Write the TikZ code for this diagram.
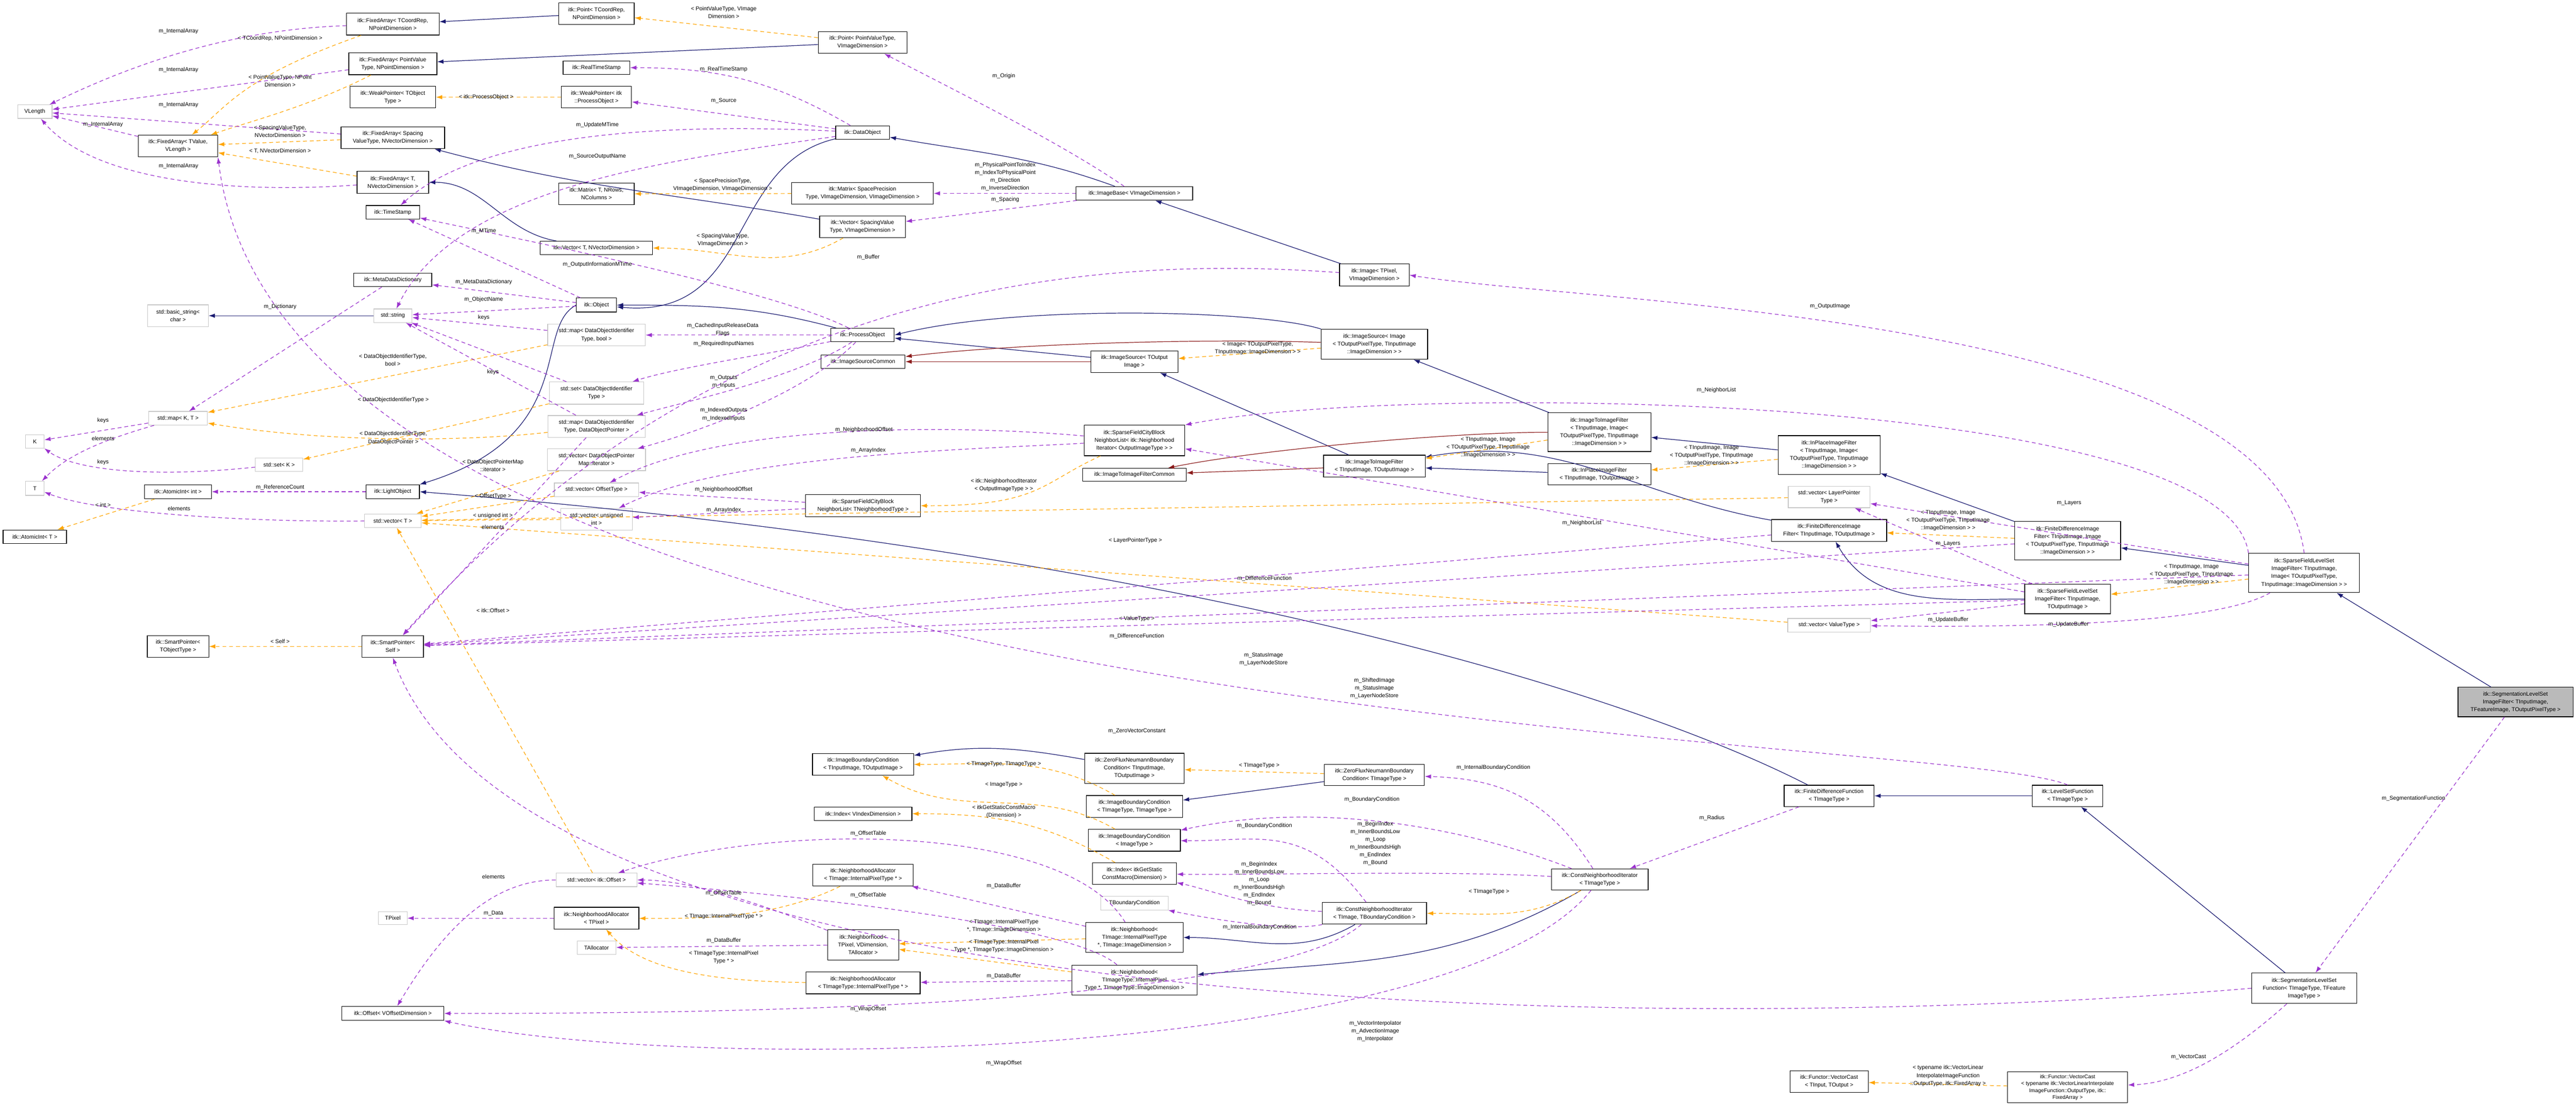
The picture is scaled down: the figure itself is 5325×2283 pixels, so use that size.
\documentclass[tikz,border=0pt]{standalone}
\usepackage{fontspec}
\setmainfont{Liberation Sans}
\usetikzlibrary{arrows.meta}
\definecolor{inhc}{HTML}{191970}
\definecolor{usec}{HTML}{9A32CD}
\definecolor{tplc}{HTML}{FFA500}
\definecolor{prtc}{HTML}{8B1A1A}
\newcommand{\nf}{\fontsize{11.5}{16}\selectfont}
\newcommand{\lf}{\fontsize{11.5}{16}\selectfont}
\begin{document}
\begin{tikzpicture}[x=1pt,y=-1pt,
 box/.style={draw=black,line width=1.3pt,fill=white,align=center,font=\nf,inner sep=1pt},
 ext/.style={box,draw=black!22},
 root/.style={box,fill=black!27},
 lbl/.style={font=\lf,align=center,inner sep=0pt},
 tip/.style={-{Latex[length=13pt,width=9pt]}},
 inh/.style={tip,draw=inhc,line width=1.3pt},
 prt/.style={tip,draw=prtc,line width=1.3pt},
 use/.style={tip,draw=usec,line width=1.3pt,dash pattern=on 8pt off 6pt},
 tpl/.style={tip,draw=tplc,line width=1.3pt,dash pattern=on 8pt off 6pt}]
\useasboundingbox (0,0) rectangle (5325,2283);
% ---- nodes ----
\node[ext,minimum width=71pt,minimum height=28pt] (VL) at (72,231) {VLength};
\node[ext,minimum width=38pt,minimum height=28pt] (K) at (72,913) {K};
\node[ext,minimum width=38pt,minimum height=29pt] (T) at (72,1010) {T};
\node[box,minimum width=131pt,minimum height=28pt] (AIT) at (72,1110) {itk::AtomicInt< T >};
\node[box,minimum width=164pt,minimum height=45pt] (FAV) at (368,302) {itk::FixedArray< TValue,\\ VLength >};
\node[ext,minimum width=125pt,minimum height=45pt] (BS) at (368,653) {std::basic\_string<\\ char >};
\node[ext,minimum width=122pt,minimum height=28pt] (MAPKT) at (368,865) {std::map< K, T >};
\node[box,minimum width=138pt,minimum height=29pt] (AII) at (368,1017) {itk::AtomicInt< int >};
\node[box,minimum width=127pt,minimum height=45pt] (SPT) at (368,1337) {itk::SmartPointer<\\ TObjectType >};
\node[ext,minimum width=98pt,minimum height=28pt] (SETK) at (577,961) {std::set< K >};
\node[box,minimum width=191pt,minimum height=45pt] (FAC) at (812,50) {itk::FixedArray< TCoordRep,\\ NPointDimension >};
\node[box,minimum width=182pt,minimum height=45pt] (FAP) at (812,132) {itk::FixedArray< PointValue\\ Type, NPointDimension >};
\node[box,minimum width=177pt,minimum height=45pt] (WPT) at (812,201) {itk::WeakPointer< TObject\\ Type >};
\node[box,minimum width=214pt,minimum height=45pt] (FAS) at (812,285) {itk::FixedArray< Spacing\\ ValueType, NVectorDimension >};
\node[box,minimum width=148pt,minimum height=45pt] (FAT) at (812,377) {itk::FixedArray< T,\\ NVectorDimension >};
\node[box,minimum width=111pt,minimum height=28pt] (TS) at (812,439) {itk::TimeStamp};
\node[box,minimum width=161pt,minimum height=28pt] (MDD) at (812,579) {itk::MetaDataDictionary};
\node[ext,minimum width=79pt,minimum height=28pt] (STR) at (812,653) {std::string};
\node[box,minimum width=110pt,minimum height=29pt] (LO) at (812,1017) {itk::LightObject};
\node[ext,minimum width=117pt,minimum height=28pt] (VT) at (812,1077) {std::vector< T >};
\node[box,minimum width=127pt,minimum height=45pt] (SPS) at (812,1337) {itk::SmartPointer<\\ Self >};
\node[ext,minimum width=59pt,minimum height=27pt] (TPX) at (812,1899) {TPixel};
\node[box,minimum width=211pt,minimum height=29pt] (OFF) at (812,2096) {itk::Offset< VOffsetDimension >};
\node[box,minimum width=156pt,minimum height=45pt] (PTC) at (1233,28) {itk::Point< TCoordRep,\\ NPointDimension >};
\node[box,minimum width=138pt,minimum height=28pt] (RTS) at (1233,140) {itk::RealTimeStamp};
\node[box,minimum width=145pt,minimum height=45pt] (WPP) at (1233,201) {itk::WeakPointer< itk\\ ::ProcessObject >};
\node[box,minimum width=156pt,minimum height=45pt] (MTX) at (1233,401) {itk::Matrix< T, NRows,\\ NColumns >};
\node[box,minimum width=232pt,minimum height=28pt] (VTN) at (1233,513) {itk::Vector< T, NVectorDimension >};
\node[box,minimum width=83pt,minimum height=29pt] (OBJ) at (1233,631) {itk::Object};
\node[ext,minimum width=202pt,minimum height=45pt] (MDB) at (1233,693) {std::map< DataObjectIdentifier\\ Type, bool >};
\node[ext,minimum width=195pt,minimum height=46pt] (SDO) at (1233,813) {std::set< DataObjectIdentifier\\ Type >};
\node[ext,minimum width=201pt,minimum height=45pt] (MDP) at (1233,882) {std::map< DataObjectIdentifier\\ Type, DataObjectPointer >};
\node[ext,minimum width=203pt,minimum height=45pt] (VDI) at (1233,951) {std::vector< DataObjectPointer\\ Map::iterator >};
\node[ext,minimum width=174pt,minimum height=28pt] (VOT) at (1233,1013) {std::vector< OffsetType >};
\node[ext,minimum width=148pt,minimum height=45pt] (VUI) at (1233,1074) {std::vector< unsigned\\ int >};
\node[ext,minimum width=167pt,minimum height=28pt] (VOF) at (1233,1820) {std::vector< itk::Offset >};
\node[box,minimum width=175pt,minimum height=45pt] (NAP) at (1233,1899) {itk::NeighborhoodAllocator\\ < TPixel >};
\node[ext,minimum width=80pt,minimum height=28pt] (TAL) at (1233,1960) {TAllocator};
\node[box,minimum width=183pt,minimum height=45pt] (PTP) at (1783,88) {itk::Point< PointValueType,\\ VImageDimension >};
\node[box,minimum width=111pt,minimum height=28pt] (DO) at (1783,274) {itk::DataObject};
\node[box,minimum width=293pt,minimum height=45pt] (MTS) at (1783,400) {itk::Matrix< SpacePrecision\\ Type, VImageDimension, VImageDimension >};
\node[box,minimum width=177pt,minimum height=45pt] (VSP) at (1783,469) {itk::Vector< SpacingValue\\ Type, VImageDimension >};
\node[box,minimum width=131pt,minimum height=28pt] (PO) at (1783,693) {itk::ProcessObject};
\node[box,minimum width=174pt,minimum height=28pt] (ISC) at (1784,748) {itk::ImageSourceCommon};
\node[box,minimum width=237pt,minimum height=46pt] (SFT) at (1784,1046) {itk::SparseFieldCityBlock\\ NeighborList< TNeighborhoodType >};
\node[box,minimum width=209pt,minimum height=45pt] (IBCIO) at (1784,1581) {itk::ImageBoundaryCondition\\ < TInputImage, TOutputImage >};
\node[box,minimum width=202pt,minimum height=28pt] (IDX) at (1784,1683) {itk::Index< VIndexDimension >};
\node[box,minimum width=208pt,minimum height=45pt] (NAI) at (1784,1810) {itk::NeighborhoodAllocator\\ < TImage::InternalPixelType * >};
\node[box,minimum width=147pt,minimum height=63pt] (NBP) at (1784,1954) {itk::Neighborhood<\\ TPixel, VDimension,\\ TAllocator >};
\node[box,minimum width=236pt,minimum height=45pt] (NAT) at (1784,2033) {itk::NeighborhoodAllocator\\ < TImageType::InternalPixelType * >};
\node[box,minimum width=241pt,minimum height=28pt] (IB) at (2345,400) {itk::ImageBase< VImageDimension >};
\node[box,minimum width=180pt,minimum height=45pt] (ISO) at (2345,748) {itk::ImageSource< TOutput\\ Image >};
\node[box,minimum width=208pt,minimum height=63pt] (SFN) at (2345,911) {itk::SparseFieldCityBlock\\ NeighborList< itk::Neighborhood\\ Iterator< OutputImageType > >};
\node[box,minimum width=214pt,minimum height=27pt] (ITC) at (2345,982) {itk::ImageToImageFilterCommon};
\node[box,minimum width=206pt,minimum height=62pt] (ZFIO) at (2345,1589) {itk::ZeroFluxNeumannBoundary\\ Condition< TInputImage,\\ TOutputImage >};
\node[box,minimum width=199pt,minimum height=45pt] (IBCT) at (2345,1668) {itk::ImageBoundaryCondition\\ < TImageType, TImageType >};
\node[box,minimum width=190pt,minimum height=45pt] (IBCI) at (2345,1738) {itk::ImageBoundaryCondition\\ < ImageType >};
\node[box,minimum width=174pt,minimum height=45pt] (IDXS) at (2345,1807) {itk::Index< itkGetStatic\\ ConstMacro(Dimension) >};
\node[ext,minimum width=140pt,minimum height=28pt] (TBC) at (2345,1868) {TBoundaryCondition};
\node[box,minimum width=201pt,minimum height=62pt] (NBI) at (2345,1939) {itk::Neighborhood<\\ TImage::InternalPixelType\\ *, TImage::ImageDimension >};
\node[box,minimum width=259pt,minimum height=62pt] (NBT) at (2345,2027) {itk::Neighborhood<\\ TImageType::InternalPixel\\ Type *, TImageType::ImageDimension >};
\node[box,minimum width=144pt,minimum height=46pt] (IMG) at (2841,569) {itk::Image< TPixel,\\ VImageDimension >};
\node[box,minimum width=220pt,minimum height=62pt] (ISI) at (2841,712) {itk::ImageSource< Image\\ < TOutputPixelType, TInputImage\\ ::ImageDimension > >};
\node[box,minimum width=210pt,minimum height=45pt] (ITF) at (2841,964) {itk::ImageToImageFilter\\ < TInputImage, TOutputImage >};
\node[box,minimum width=207pt,minimum height=44pt] (ZFT) at (2841,1603) {itk::ZeroFluxNeumannBoundary\\ Condition< TImageType >};
\node[box,minimum width=216pt,minimum height=45pt] (CNI) at (2841,1889) {itk::ConstNeighborhoodIterator\\ < TImage, TBoundaryCondition >};
\node[box,minimum width=213pt,minimum height=80pt] (ITI) at (3306,894) {itk::ImageToImageFilter\\ < TInputImage, Image<\\ TOutputPixelType, TInputImage\\ ::ImageDimension > >};
\node[box,minimum width=213pt,minimum height=44pt] (IPF) at (3306,981) {itk::InPlaceImageFilter\\ < TInputImage, TOutputImage >};
\node[box,minimum width=200pt,minimum height=44pt] (CNT) at (3307,1819) {itk::ConstNeighborhoodIterator\\ < TImageType >};
\node[box,minimum width=211pt,minimum height=80pt] (IPI) at (3781,941) {itk::InPlaceImageFilter\\ < TInputImage, Image<\\ TOutputPixelType, TInputImage\\ ::ImageDimension > >};
\node[ext,minimum width=169pt,minimum height=44pt] (VLP) at (3781,1028) {std::vector< LayerPointer\\ Type >};
\node[box,minimum width=238pt,minimum height=45pt] (FDF) at (3781,1097) {itk::FiniteDifferenceImage\\ Filter< TInputImage, TOutputImage >};
\node[ext,minimum width=171pt,minimum height=28pt] (VVT) at (3781,1293) {std::vector< ValueType >};
\node[box,minimum width=186pt,minimum height=44pt] (FDFn) at (3781,1646) {itk::FiniteDifferenceFunction\\ < TImageType >};
\node[box,minimum width=162pt,minimum height=44pt] (VC) at (3781,2237) {itk::Functor::VectorCast\\ < TInput, TOutput >};
\node[box,minimum width=219pt,minimum height=80pt] (FDI) at (4274,1118) {itk::FiniteDifferenceImage\\ Filter< TInputImage, Image\\ < TOutputPixelType, TInputImage\\ ::ImageDimension > >};
\node[box,minimum width=177pt,minimum height=61pt] (SFL) at (4274,1239) {itk::SparseFieldLevelSet\\ ImageFilter< TInputImage,\\ TOutputImage >};
\node[box,minimum width=146pt,minimum height=44pt] (LSF) at (4274,1646) {itk::LevelSetFunction\\ < TImageType >};
\node[box,minimum width=248pt,minimum height=64pt,font=\fontsize{11}{14.5}\selectfont] (VCT) at (4274,2249) {itk::Functor::VectorCast\\ < typename itk::VectorLinearInterpolate\\ ImageFunction::OutputType, itk::\\ FixedArray >};
\node[box,minimum width=229pt,minimum height=81pt] (SFI) at (4763,1185) {itk::SparseFieldLevelSet\\ ImageFilter< TInputImage,\\ Image< TOutputPixelType,\\ TInputImage::ImageDimension > >};
\node[box,minimum width=217pt,minimum height=63pt] (SLF) at (4763,2044) {itk::SegmentationLevelSet\\ Function< TImageType, TFeature\\ ImageType >};
\node[root,minimum width=238pt,minimum height=61pt] (ROOT) at (5200,1452) {itk::SegmentationLevelSet\\ ImageFilter< TInputImage,\\ TFeatureImage, TOutputPixelType >};
% ---- inheritance ----
\draw[inh] (PTC) -- (FAC);
\draw[inh] (PTP) -- (FAP);
\draw[inh] (VSP) to[out=170,in=-15] (FAS);
\draw[inh] (VTN) to[out=170,in=0] (FAT);
\draw[inh] (IB) to[out=160,in=-10] (DO);
\draw[inh] (DO) .. controls (1500,340) and (1560,660) .. (OBJ);
\draw[inh] (PO) to[out=165,in=0] (OBJ);
\draw[inh] (OBJ.west) .. controls (1100,680) and (1200,900) .. (LO.north east);
\draw[inh] (STR) -- (BS);
\draw[inh] (IMG) -- (IB);
\draw[inh] (ISO) -- (PO);
\draw[inh] (ISI.north west) .. controls (2600,640) and (2100,630) .. (PO.east);
\draw[inh] (ITF) -- (ISO);
\draw[inh] (ITI) -- (ISI);
\draw[inh] (IPF) -- (ITF);
\draw[inh] (IPI) -- (ITI);
\draw[inh] (FDF) to[out=170,in=10] (ITF);
\draw[inh] (FDI) -- (IPI);
\draw[inh] (SFL) to[out=180,in=-60] (FDF);
\draw[inh] (SFI) -- (FDI);
\draw[inh] (ROOT) -- (SFI);
\draw[inh] (FDFn) .. controls (3300,1400) and (2300,1130) .. (LO.east);
\draw[inh] (LSF) -- (FDFn);
\draw[inh] (SLF) -- (LSF);
\draw[inh] (ZFIO) to[out=170,in=10] (IBCIO);
\draw[inh] (ZFT) -- (IBCT);
\draw[inh] (CNI) to[out=-150,in=0] (NBI);
\draw[inh] (CNT) to[out=-150,in=5] (NBT);
% ---- protected ----
\draw[prt] (ISO) -- (ISC);
\draw[prt] (ISI) .. controls (2500,700) and (2100,710) .. (ISC);
\draw[prt] (ITF) -- (ITC);
\draw[prt] (ITI) .. controls (3000,894) and (2600,930) .. (ITC);
% ---- template ----
\draw[tpl] (FAC) .. controls (500,160) and (470,220) .. (FAV);
\draw[tpl] (FAP) .. controls (640,220) and (520,250) .. (FAV);
\draw[tpl] (FAS) -- (FAV);
\draw[tpl] (FAT) -- (FAV);
\draw[tpl] (WPP) -- (WPT);
\draw[tpl] (PTP) -- (PTC);
\draw[tpl] (MTS) -- (MTX);
\draw[tpl] (VSP) to[out=-150,in=0] (VTN);
\draw[tpl] (MDB) -- (MAPKT);
\draw[tpl] (SDO) -- (SETK);
\draw[tpl] (MDP) .. controls (1000,910) and (700,920) .. (MAPKT);
\draw[tpl] (VDI) -- (VT);
\draw[tpl] (VOT) -- (VT);
\draw[tpl] (VUI) -- (VT);
\draw[tpl] (VOF) -- (VT);
\draw[tpl] (VLP) -- (VT);
\draw[tpl] (VVT) -- (VT);
\draw[tpl] (AII) -- (AIT);
\draw[tpl] (SPS) -- (SPT);
\draw[tpl] (SFN) .. controls (2150,1000) and (2150,1046) .. (SFT);
\draw[tpl] (ISI) -- (ISO);
\draw[tpl] (ITI) -- (ITF);
\draw[tpl] (IPI) -- (IPF);
\draw[tpl] (FDI) -- (FDF);
\draw[tpl] (SFI) -- (SFL);
\draw[tpl] (IBCT) to[out=150,in=0] (IBCIO);
\draw[tpl] (IBCI) to[out=150,in=-30] (IBCIO);
\draw[tpl] (IDXS) to[out=150,in=0] (IDX);
\draw[tpl] (ZFT) -- (ZFIO);
\draw[tpl] (CNT) to[out=-150,in=0] (CNI);
\draw[tpl] (NAI) .. controls (1600,1900) and (1450,1900) .. (NAP);
\draw[tpl] (NAT) .. controls (1450,2030) and (1320,2000) .. (NAP);
\draw[tpl] (NBI) -- (NBP);
\draw[tpl] (NBT) -- (NBP);
\draw[tpl] (VCT) -- (VC);
% ---- usage ----
\draw[use] (FAC) .. controls (500,60) and (300,120) .. (VL);
\draw[use] (FAP) -- (VL);
\draw[use] (FAS) -- (VL);
\draw[use] (FAV) -- (VL);
\draw[use] (FAT) .. controls (500,400) and (200,380) .. (VL);
\draw[use] (MAPKT) -- (K);
\draw[use] (MAPKT) .. controls (250,900) and (150,930) .. (T);
\draw[use] (SETK) .. controls (300,990) and (150,970) .. (K);
\draw[use] (VT) .. controls (500,1080) and (200,1060) .. (T);
\draw[use] (MDD) -- (MAPKT);
\draw[use] (LO) -- (AII);
\draw[use] (OBJ) -- (TS);
\draw[use] (DO) .. controls (1400,255) and (1000,270) .. (TS);
\draw[use] (PO) .. controls (1600,600) and (1100,500) .. (TS);
\draw[use] (DO) to[out=150,in=0] (RTS);
\draw[use] (DO) -- (WPP);
\draw[use] (DO) .. controls (1400,330) and (950,380) .. (STR);
\draw[use] (OBJ) -- (STR);
\draw[use] (OBJ) -- (MDD);
\draw[use] (MDB) -- (STR);
\draw[use] (SDO) -- (STR);
\draw[use] (MDP) -- (STR);
\draw[use] (MDP) -- (SPS);
\draw[use] (IB) .. controls (2200,300) and (2000,200) .. (PTP);
\draw[use] (IB) -- (MTS);
\draw[use] (IB) -- (VSP);
\draw[use] (IMG) .. controls (2300,530) and (1500,560) .. (SPS);
\draw[use] (PO) -- (MDB);
\draw[use] (PO) .. controls (1600,730) and (1400,760) .. (SDO);
\draw[use] (PO) .. controls (1650,780) and (1420,830) .. (MDP);
\draw[use] (PO) .. controls (1660,820) and (1420,900) .. (VDI);
\draw[use] (SFT) -- (VOT);
\draw[use] (SFT) -- (VUI);
\draw[use] (SFN) .. controls (2000,880) and (1500,870) .. (VOT);
\draw[use] (SFN) .. controls (2000,930) and (1500,940) .. (VUI);
\draw[use] (SFI.north) .. controls (4700,650) and (3300,630) .. (IMG.east);
\draw[use] (SFI.north west) .. controls (4600,810) and (2900,790) .. (SFN.north east);
\draw[use] (SFL) -- (SFN);
\draw[use] (SFI) -- (VLP);
\draw[use] (SFL) -- (VLP);
\draw[use] (SFL) -- (VVT);
\draw[use] (SFI) .. controls (4600,1280) and (4300,1300) .. (VVT);
\draw[use] (FDF) -- (SPS);
\draw[use] (FDI) -- (SPS);
\draw[use] (SFL) -- (SPS);
\draw[use] (SFI) -- (SPS);
\draw[use] (LSF.north) .. controls (4000,1510) and (600,1520) .. (FAV.south east);
\draw[use] (SLF.west) .. controls (3500,2140) and (1100,2130) .. (SPS.south);
\draw[use] (SLF) .. controls (4600,2190) and (4500,2240) .. (VCT);
\draw[use] (ROOT) -- (SLF);
\draw[use] (FDFn) -- (CNT);
\draw[use] (CNT) .. controls (3200,1650) and (3100,1610) .. (ZFT);
\draw[use] (CNT) .. controls (3000,1700) and (2700,1660) .. (IBCI);
\draw[use] (CNT) .. controls (3000,1800) and (2600,1810) .. (IDXS);
\draw[use] (CNI) .. controls (2700,1700) and (2600,1740) .. (IBCI);
\draw[use] (CNI) .. controls (2600,1880) and (2500,1840) .. (IDXS);
\draw[use] (CNI) .. controls (2650,1930) and (2450,1890) .. (TBC);
\draw[use] (NBI) .. controls (2200,1700) and (1600,1700) .. (VOF);
\draw[use] (NBT) .. controls (2200,1900) and (1500,1840) .. (VOF);
\draw[use] (NBP) .. controls (1650,1900) and (1450,1820) .. (VOF);
\draw[use] (NBI) -- (NAI);
\draw[use] (NBT) -- (NAT);
\draw[use] (NBP) -- (TAL);
\draw[use] (NAP) -- (TPX);
\draw[use] (VOF) .. controls (1000,1820) and (900,1950) .. (OFF);
\draw[use] (CNI) .. controls (2600,2096) and (1300,2096) .. (OFF);
\draw[use] (CNT) .. controls (3000,2200) and (1400,2220) .. (OFF.south east);
% ---- labels ----
\node[lbl] (a1) at (369,65) {m\_InternalArray};
\node[lbl] (a2) at (369,145) {m\_InternalArray};
\node[lbl] (a3) at (369,217) {m\_InternalArray};
\node[lbl] (a4) at (213,257) {m\_InternalArray};
\node[lbl] (a5) at (369,344) {m\_InternalArray};
\node[lbl] (a6) at (579,80) {< TCoordRep, NPointDimension >};
\node[lbl] (a7) at (579,167) {< PointValueType, NPoint\\Dimension >};
\node[lbl] (a8) at (579,272) {< SpacingValueType,\\NVectorDimension >};
\node[lbl] (a9) at (579,312) {< T, NVectorDimension >};
\node[lbl] (a10) at (1005,201) {< itk::ProcessObject >};
\node[lbl] (a11) at (1496,26) {< PointValueType, VImage\\Dimension >};
\node[lbl] (a12) at (1496,143) {m\_RealTimeStamp};
\node[lbl] (a13) at (1496,208) {m\_Source};
\node[lbl] (a14) at (1235,259) {m\_UpdateMTime};
\node[lbl] (a15) at (1235,324) {m\_SourceOutputName};
\node[lbl] (a16) at (2075,157) {m\_Origin};
\node[lbl] (a17) at (2078,365) {m\_PhysicalPointToIndex\\m\_IndexToPhysicalPoint\\m\_Direction\\m\_InverseDirection};
\node[lbl] (a18) at (2078,413) {m\_Spacing};
\node[lbl] (a19) at (1494,383) {< SpacePrecisionType,\\VImageDimension, VImageDimension >};
\node[lbl] (a20) at (1494,496) {< SpacingValueType,\\VImageDimension >};
\node[lbl] (a21) at (1000,478) {m\_MTime};
\node[lbl] (a22) at (1235,547) {m\_OutputInformationMTime};
\node[lbl] (a23) at (1795,532) {m\_Buffer};
\node[lbl] (a24) at (1000,583) {m\_MetaDataDictionary};
\node[lbl] (a25) at (1000,620) {m\_ObjectName};
\node[lbl] (a26) at (579,634) {m\_Dictionary};
\node[lbl] (a27) at (1000,657) {keys};
\node[lbl] (a28) at (1494,682) {m\_CachedInputReleaseData\\Flags};
\node[lbl] (a29) at (1496,711) {m\_RequiredInputNames};
\node[lbl] (a30) at (812,745) {< DataObjectIdentifierType,\\bool >};
\node[lbl] (a31) at (1019,770) {keys};
\node[lbl] (a32) at (1496,790) {m\_Outputs\\m\_Inputs};
\node[lbl] (a33) at (813,827) {< DataObjectIdentifierType >};
\node[lbl] (a34) at (1496,857) {m\_IndexedOutputs\\m\_IndexedInputs};
\node[lbl] (a35) at (213,870) {keys};
\node[lbl] (a36) at (213,907) {elements};
\node[lbl] (a37) at (213,956) {keys};
\node[lbl] (a38) at (1786,889) {m\_NeighborhoodOffset};
\node[lbl] (a39) at (1795,932) {m\_ArrayIndex};
\node[lbl] (a40) at (813,906) {< DataObjectIdentifierType,\\DataObjectPointer >};
\node[lbl] (a41) at (1019,963) {< DataObjectPointerMap\\::iterator >};
\node[lbl] (a42) at (579,1008) {m\_ReferenceCount};
\node[lbl] (a43) at (1496,1012) {m\_NeighborhoodOffset};
\node[lbl] (a44) at (1496,1055) {m\_ArrayIndex};
\node[lbl] (a45) at (2075,1003) {< itk::NeighborhoodIterator\\< OutputImageType > >};
\node[lbl] (a46) at (1019,1026) {< OffsetType >};
\node[lbl] (a47) at (213,1044) {< int >};
\node[lbl] (a48) at (370,1052) {elements};
\node[lbl] (a49) at (1019,1067) {< unsigned int >};
\node[lbl] (a50) at (1019,1090) {elements};
\node[lbl] (a51) at (2347,1118) {< LayerPointerType >};
\node[lbl] (a52) at (1019,1263) {< itk::Offset >};
\node[lbl] (a53) at (579,1327) {< Self >};
\node[lbl] (a54) at (2350,1280) {< ValueType >};
\node[lbl] (a55) at (2614,1197) {m\_DifferenceFunction};
\node[lbl] (a56) at (2350,1316) {m\_DifferenceFunction};
\node[lbl] (a57) at (2612,1364) {m\_StatusImage\\m\_LayerNodeStore};
\node[lbl] (a58) at (2841,1424) {m\_ShiftedImage\\m\_StatusImage\\m\_LayerNodeStore};
\node[lbl] (a59) at (2350,1512) {m\_ZeroVectorConstant};
\node[lbl] (a60) at (2075,1580) {< TImageType, TImageType >};
\node[lbl] (a61) at (2075,1623) {< ImageType >};
\node[lbl] (a62) at (2075,1679) {< itkGetStaticConstMacro\\(Dimension) >};
\node[lbl] (a63) at (2603,1584) {< TImageType >};
\node[lbl] (a64) at (3087,1588) {m\_InternalBoundaryCondition};
\node[lbl] (a65) at (2836,1654) {m\_BoundaryCondition};
\node[lbl] (a66) at (2614,1708) {m\_BoundaryCondition};
\node[lbl] (a67) at (2843,1745) {m\_BeginIndex\\m\_InnerBoundsLow\\m\_Loop\\m\_InnerBoundsHigh\\m\_EndIndex\\m\_Bound};
\node[lbl] (a68) at (2603,1828) {m\_BeginIndex\\m\_InnerBoundsLow\\m\_Loop\\m\_InnerBoundsHigh\\m\_EndIndex\\m\_Bound};
\node[lbl] (a69) at (3078,1844) {< TImageType >};
\node[lbl] (a70) at (2604,1918) {m\_InternalBoundaryCondition};
\node[lbl] (a71) at (1795,1724) {m\_OffsetTable};
\node[lbl] (a72) at (1496,1847) {m\_OffsetTable};
\node[lbl] (a73) at (1795,1852) {m\_OffsetTable};
\node[lbl] (a74) at (2075,1833) {m\_DataBuffer};
\node[lbl] (a75) at (1496,1945) {m\_DataBuffer};
\node[lbl] (a76) at (2075,2019) {m\_DataBuffer};
\node[lbl] (a77) at (1496,1895) {< TImage::InternalPixelType * >};
\node[lbl] (a78) at (2075,1915) {< TImage::InternalPixelType\\*, TImage::ImageDimension >};
\node[lbl] (a79) at (1496,1980) {< TImageType::InternalPixel\\Type * >};
\node[lbl] (a80) at (2075,1957) {< TImageType::InternalPixel\\Type *, TImageType::ImageDimension >};
\node[lbl] (a81) at (1020,1813) {elements};
\node[lbl] (a82) at (1020,1889) {m\_Data};
\node[lbl] (a83) at (1795,2087) {m\_WrapOffset};
\node[lbl] (a84) at (2075,2199) {m\_WrapOffset};
\node[lbl] (a85) at (2843,2133) {m\_VectorInterpolator\\m\_AdvectionImage\\m\_Interpolator};
\node[lbl] (a86) at (2600,720) {< Image< TOutputPixelType,\\TInputImage::ImageDimension > >};
\node[lbl] (a87) at (3076,925) {< TInputImage, Image\\< TOutputPixelType, TInputImage\\::ImageDimension > >};
\node[lbl] (a88) at (3538,942) {< TInputImage, Image\\< TOutputPixelType, TInputImage\\::ImageDimension > >};
\node[lbl] (a89) at (4027,1077) {< TInputImage, Image\\< TOutputPixelType, TInputImage\\::ImageDimension > >};
\node[lbl] (a90) at (4530,1188) {< TInputImage, Image\\< TOutputPixelType, TInputImage\\::ImageDimension > >};
\node[lbl] (a91) at (3783,634) {m\_OutputImage};
\node[lbl] (a92) at (3548,807) {m\_NeighborList};
\node[lbl] (a93) at (3270,1082) {m\_NeighborList};
\node[lbl] (a94) at (4277,1040) {m\_Layers};
\node[lbl] (a95) at (4027,1125) {m\_Layers};
\node[lbl] (a96) at (4027,1282) {m\_UpdateBuffer};
\node[lbl] (a97) at (4276,1291) {m\_UpdateBuffer};
\node[lbl] (a98) at (3539,1692) {m\_Radius};
\node[lbl] (a99) at (4989,1651) {m\_SegmentationFunction};
\node[lbl] (a100) at (4524,2186) {m\_VectorCast};
\node[lbl] (a101) at (4027,2225) {< typename itk::VectorLinear\\InterpolateImageFunction\\::OutputType, itk::FixedArray >};
\end{tikzpicture}
\end{document}
